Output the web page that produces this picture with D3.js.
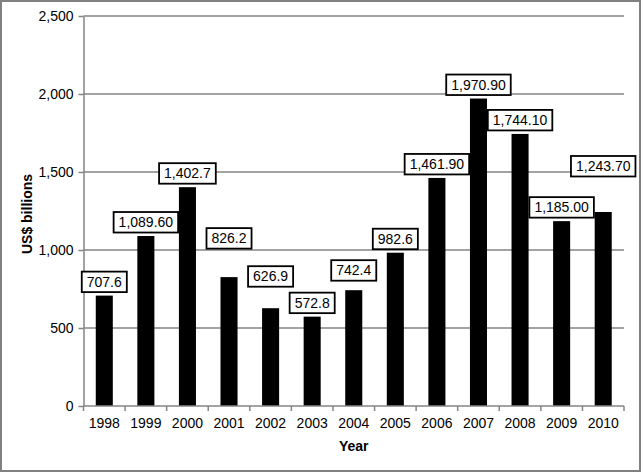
<!DOCTYPE html>
<html>
<head>
<meta charset="utf-8">
<script src="https://cdn.jsdelivr.net/npm/d3@7"></script>
<style>
html,body{margin:0;padding:0;background:#fff;}
svg{display:block;font-family:"Liberation Sans",Arial,Helvetica,sans-serif;}
</style>
</head>
<body>
<script>
const years = ["1998","1999","2000","2001","2002","2003","2004","2005","2006","2007","2008","2009","2010"];
const values = [707.6,1089.6,1402.7,826.2,626.9,572.8,742.4,982.6,1461.9,1970.9,1744.1,1185.0,1243.7];
const labels = ["707.6","1,089.60","1,402.7","826.2","626.9","572.8","742.4","982.6","1,461.90","1,970.90","1,744.10","1,185.00","1,243.70"];
const yTicks = [0,500,1000,1500,2000,2500];
// extra upward nudge of some value labels (px), as placed in the original
const labelNudge = [0,0,0,25,18,0,6,0,0,0,0,0,32];

const W = 641, H = 472;
const m = {left:83.5, right:17, top:16, bottom:66};
const svg = d3.select("body").append("svg").attr("width",W).attr("height",H);

svg.append("rect").attr("x",1).attr("y",1).attr("width",W-2).attr("height",H-2)
  .attr("fill","#fff").attr("stroke","#808080").attr("stroke-width",2);

const x = d3.scaleBand().domain(years).range([m.left, W-m.right]).paddingInner(0.59).paddingOuter(0.295);
const y = d3.scaleLinear().domain([0,2500]).range([H-m.bottom, m.top]);

// gridlines
svg.append("g").selectAll("line").data(yTicks.filter(d=>d>0)).join("line")
  .attr("x1",m.left).attr("x2",W-m.right)
  .attr("y1",d=>y(d)).attr("y2",d=>y(d))
  .attr("stroke","#858585").attr("stroke-width",1.5);

// y axis
const yAxis = svg.append("g").attr("transform",`translate(${m.left},0)`)
  .call(d3.axisLeft(y).tickValues(yTicks).tickFormat(d3.format(",")).tickSizeInner(5).tickSizeOuter(0).tickPadding(5));
yAxis.select(".domain").attr("stroke","#858585").attr("stroke-width",1.5);
yAxis.selectAll(".tick line").attr("stroke","#858585").attr("stroke-width",1.5);
yAxis.selectAll("text").attr("font-size",14).attr("fill","#000").attr("font-family","Liberation Sans, Arial, sans-serif");

// bars
svg.append("g").selectAll("rect").data(values).join("rect")
  .attr("x",(d,i)=>x(years[i])).attr("width",x.bandwidth())
  .attr("y",d=>y(d)).attr("height",d=>y(0)-y(d)).attr("fill","#000");

// x axis
const xTickScale = d3.scalePoint().domain(d3.range(years.length+1)).range([m.left, W-m.right]);
const xg = svg.append("g");
xg.append("line").attr("x1",m.left).attr("x2",W-m.right).attr("y1",y(0)).attr("y2",y(0))
  .attr("stroke","#858585").attr("stroke-width",1.5);
xg.selectAll("line.t").data(d3.range(years.length+1)).join("line").attr("class","t")
  .attr("x1",d=>xTickScale(d)).attr("x2",d=>xTickScale(d)).attr("y1",y(0)).attr("y2",y(0)+5)
  .attr("stroke","#858585").attr("stroke-width",1.5);
xg.selectAll("text").data(years).join("text")
  .attr("x",d=>x(d)+x.bandwidth()/2).attr("y",y(0)+22)
  .attr("text-anchor","middle").attr("font-size",14).attr("fill","#000").text(d=>d);

// axis titles
svg.append("text").attr("x",(m.left+W-m.right)/2).attr("y",451)
  .attr("text-anchor","middle").attr("font-size",14).attr("font-weight","bold").text("Year");
svg.append("text").attr("transform",`translate(32,${(m.top+H-m.bottom)/2+3}) rotate(-90)`)
  .attr("text-anchor","middle").attr("font-size",14).attr("font-weight","bold").text("US$ billions");

// value labels
const lg = svg.append("g").selectAll("g").data(values).join("g");
lg.each(function(d,i){
  const g = d3.select(this);
  const cx = x(years[i]) + x.bandwidth()/2;
  const bottom = y(d) - 3.5 - labelNudge[i];
  const t = g.append("text").attr("x",cx).attr("y",bottom-5.5)
    .attr("text-anchor","middle").attr("font-size",14).attr("fill","#000").text(labels[i]);
  const tw = t.node().getComputedTextLength();
  const bw = tw + 10, bh = 20.5;
  g.insert("rect","text").attr("x",cx-bw/2).attr("y",bottom-bh).attr("width",bw).attr("height",bh)
    .attr("fill","#fff").attr("stroke","#000").attr("stroke-width",1.8);
});
</script>
</body>
</html>
